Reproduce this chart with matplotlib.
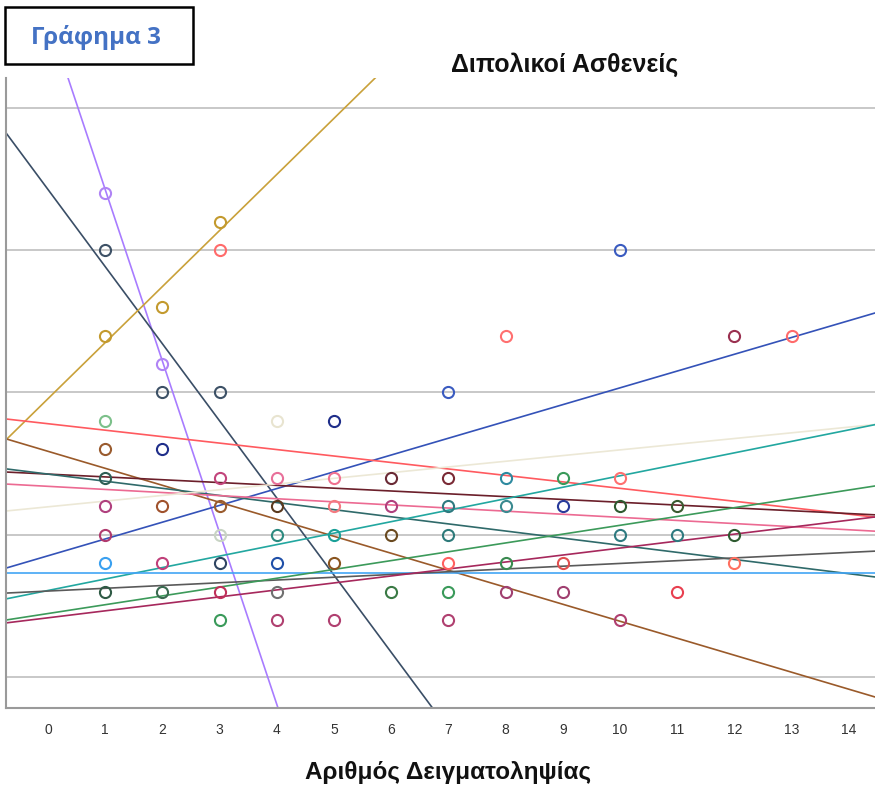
import matplotlib
matplotlib.use("Agg")
import matplotlib.pyplot as plt
from matplotlib.patches import Rectangle

# ---- data ----
x_ticks = list(range(0, 15))

point_x = [1, 1, 1, 1, 1, 1, 1, 1, 1, 1,
           2, 2, 2, 2, 2, 2, 2,
           3, 3, 3, 3, 3, 3, 3, 3, 3,
           4, 4, 4, 4, 4, 4, 4,
           5, 5, 5, 5, 5, 5,
           6, 6, 6, 6,
           7, 7, 7, 7, 7, 7, 7,
           8, 8, 8, 8, 8,
           9, 9, 9, 9,
           10, 10, 10, 10, 10,
           11, 11, 11,
           12, 12, 12,
           13]
point_y = [17, 15, 12, 9, 8, 7, 6, 5, 4, 3,
           13, 11, 10, 8, 6, 4, 3,
           16, 15, 10, 7, 6, 5, 4, 3, 2,
           9, 7, 6, 5, 4, 3, 2,
           9, 7, 6, 5, 4, 2,
           7, 6, 5, 3,
           10, 7, 6, 5, 4, 3, 2,
           12, 7, 6, 4, 3,
           7, 6, 4, 3,
           15, 7, 6, 5, 2,
           6, 5, 3,
           12, 5, 4,
           12]
point_color = ["#B084F5", "#3D5166", "#C39A2E", "#7CC08A", "#9A5B2E", "#2E5E55", "#B0407E", "#B03A6E", "#3AA0F0", "#2F5A45",
               "#C39A2E", "#B084F5", "#3D5166", "#1F2E8A", "#A0522D", "#C0407A", "#3A6A50",
               "#C39A2E", "#FF6B6B", "#3D5166", "#C2457C", "#9A5B2E", "#C8D4C4", "#2F4562", "#C0305A", "#3A9A5A",
               "#E8E4D0", "#E8709A", "#5A3A1E", "#2E8A80", "#2050A8", "#707070", "#B04070",
               "#1F2E8A", "#F07090", "#F47A80", "#1AA098", "#8A5520", "#B04070",
               "#6A2A35", "#B0407E", "#6A4A20", "#3A7A45",
               "#3A5BC0", "#7A2A35", "#2E7A80", "#2E7A7A", "#FF6060", "#3A9A5A", "#B04070",
               "#FF7070", "#2E8AA0", "#3A8A90", "#3A8A50", "#A04070",
               "#3A9A5A", "#283A9A", "#E05050", "#A04070",
               "#3A5BC0", "#FF7070", "#2E5A30", "#2E7A80", "#B04070",
               "#3A5A30", "#2E7A80", "#E84050",
               "#9A3050", "#2E5A30", "#FF7060",
               "#FF6B6B"]

# fitted lines: value at x = 0 and slope
line_intercept = [23.16, 17.13, 9.78, 4.26, 8.90, 7.93, 7.13, 7.13, 6.70, 5.98, 3.04, 3.66, 3.02, 2.23, 2.08]
line_slope = [-6.03, -2.71, 1.97, 0.59, -0.227, -0.597, -0.099, -0.25, -0.109, 0.20, 0.403, 0.0, 0.097, 0.31, 0.245]
line_color = ["#A87CFF", "#3A4E66", "#C9A13A", "#3452B8", "#FF5A5F", "#9A5A2A", "#6B1F2A", "#2F6A6A",
              "#EC6A92", "#ECE8D6", "#22A7A0", "#42A5F5", "#5A5A5A", "#3C9A5A", "#A6285C"]

grid_levels = [0, 5, 10, 15, 20]

title_text = "Διπολικοί Ασθενείς"
xlabel_text = "Αριθμός Δειγματοληψίας"
box_text = "Γράφημα 3"

# ---- figure ----
fig = plt.figure(figsize=(8.75, 7.94), dpi=100)
ax = fig.add_axes([0.0069, 0.1083, 0.9931, 0.7935])
ax.set_xlim(-0.734, 14.46)
ax.set_ylim(-1.09, 21.05)

for g in grid_levels:
    ax.axhline(g, color="#C8C8C8", lw=1.4, zorder=1)

for b, m, c in zip(line_intercept, line_slope, line_color):
    ax.axline((0, b), slope=m, color=c, lw=1.2, zorder=2)

for x, y, c in zip(point_x, point_y, point_color):
    ax.plot([x], [y], marker="o", ms=8.0, mfc="none", mec=c, mew=1.5, ls="none", zorder=3)

ax.set_xticks(x_ticks)
ax.set_xticklabels([str(t) for t in x_ticks], fontsize=10, color="#333333", family="Liberation Sans")
ax.tick_params(axis="x", length=0, pad=11)
ax.set_yticks([])
for s in ["top", "right"]:
    ax.spines[s].set_visible(False)
ax.spines["left"].set_color("#9A9A9A")
ax.spines["bottom"].set_color("#9A9A9A")
ax.spines["left"].set_linewidth(1.5)
ax.spines["bottom"].set_linewidth(1.5)

fig.text(565 / 875, 1 - 65 / 794, title_text, ha="center", va="center",
         fontsize=18, fontweight="bold", family="Liberation Sans", color="#111111")
fig.text(448 / 875, 1 - 773 / 794, xlabel_text, ha="center", va="center",
         fontsize=17.5, fontweight="bold", family="Liberation Sans", color="#111111")

fig.patches.append(Rectangle((5 / 875, 1 - 64 / 794), 188 / 875, 57 / 794,
                             transform=fig.transFigure, fill=False, ec="black", lw=1.8))
fig.text(96 / 875, 1 - 37 / 794, box_text, ha="center", va="center",
         fontsize=17.5, fontweight="bold", family="Open Sans", color="#4472C4")

fig.savefig("out.png", dpi=100)
